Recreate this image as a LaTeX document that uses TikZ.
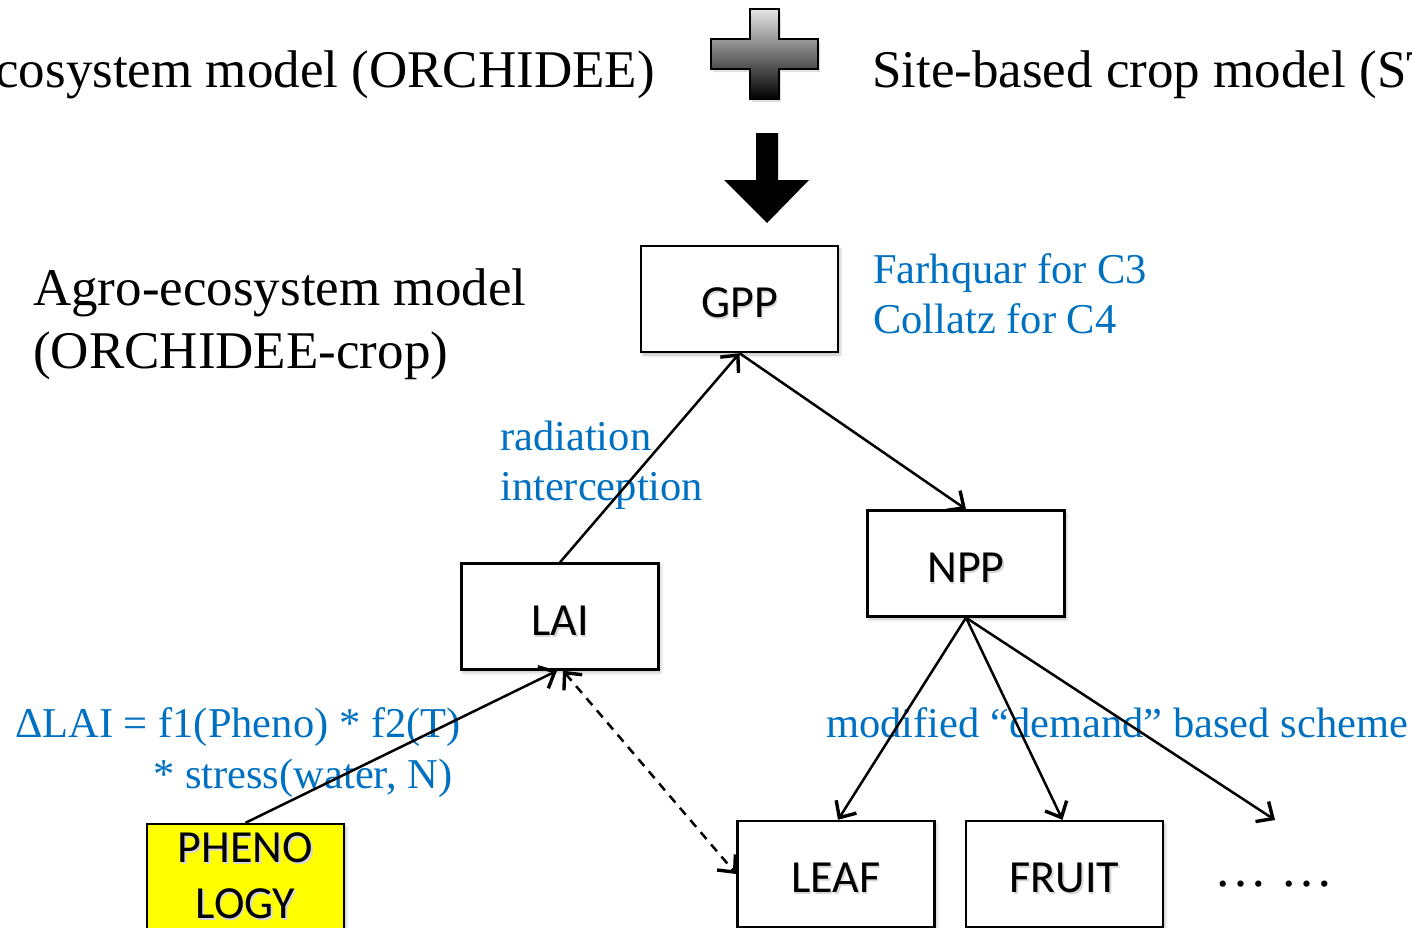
\documentclass[tikz,border=0pt]{standalone}
\usepackage{fontspec}
\setmainfont{Liberation Serif}
\newfontfamily\boxfont{Carlito}
\usetikzlibrary{arrows.meta,shadows.blur}
\definecolor{labelblue}{RGB}{0,112,192}
\definecolor{phenoyellow}{RGB}{255,255,0}
% box captions carry a soft grey drop shadow
\newcommand\shadowed[1]{\leavevmode\rlap{\kern1.5pt\raisebox{-2pt}{\textcolor{black!16}{#1}}}#1}
% single-line captions sit a little below the box centre
\newcommand\boxcap[1]{\raisebox{-5pt}[\height][\depth]{\shadowed{#1}}}

\begin{document}
\begin{tikzpicture}[x=1pt,y=-1pt,
  stage/.style={draw=black, line width=2.4pt, fill=white,
    minimum width=197pt, minimum height=106pt, inner sep=0pt,
    font=\boxfont\fontsize{46}{56}\selectfont, align=center,
    blur shadow={shadow xshift=2pt,shadow yshift=-3pt,shadow blur radius=3pt,shadow opacity=25}},
  barb/.tip={Straight Barb[length=13pt,width=24pt,line width=3.4pt]},
  flow/.style={line width=2.5pt, -barb},
  note/.style={text=labelblue, font=\fontsize{42.5}{50}\selectfont, inner sep=0pt, align=left},
  title/.style={font=\fontsize{53}{63}\selectfont, inner sep=0pt, align=left}]

\useasboundingbox (0,0) rectangle (1412,927);

% ---- headline: two models combined ----
\node[title, anchor=base east] (natural) at (655,87) {ecosystem model (ORCHIDEE)};
\node[title, anchor=base west] (site) at (872,87) {Site-based crop model (ST};

\fill[black!40, opacity=0.3] (713,42) -- (752,42) -- (752,12) -- (781,12) -- (781,42) -- (820,42)
  -- (820,72) -- (781,72) -- (781,102) -- (752,102) -- (752,72) -- (713,72) -- cycle;
\draw[line width=1.6pt, top color=black!10, bottom color=black, shading angle=0]
  (711,39) -- (750,39) -- (750,9) -- (779,9) -- (779,39) -- (818,39)
  -- (818,69) -- (779,69) -- (779,99) -- (750,99) -- (750,69) -- (711,69) -- cycle;

\fill[black] (756,133) -- (778,133) -- (778,180) -- (809,180) -- (767,223)
  -- (724,180) -- (756,180) -- cycle;

% ---- combined model ----
\node[title, anchor=base west] (agro) at (33,305) {Agro-ecosystem model};
\node[title, anchor=base west] (agrocrop) at (33,368) {(ORCHIDEE-crop)};

\node[stage] (GPP) at (739.5,299) {\boxcap{GPP}};
\node[stage] (LAI) at (560,616.5) {\boxcap{LAI}};
\node[stage] (NPP) at (966,563.5) {\boxcap{NPP}};
\node[stage] (LEAF) at (836,874) {\boxcap{LEAF}};
\node[stage] (FRUIT) at (1064.5,874) {\boxcap{FRUIT}};
\node[stage, fill=phenoyellow] (PHENO) at (245.5,877)
  {\shadowed{PHENO}\\\shadowed{LOGY}};
\coordinate (other) at (1275,820);
\node[anchor=base, inner sep=0pt, font=\fontsize{53}{60}\selectfont] (dots) at (1274,886) {…\ …};

% ---- labels (multi-line nodes sit on the baseline of their last line) ----
\node[note, anchor=base west] (photo) at (873,333) {Farhquar for C3\\Collatz for C4};
\node[note, anchor=base west] (radiation) at (500,500) {radiation\\interception};
\node[note, anchor=base west] (dlai) at (15,737) {ΔLAI = f1(Pheno) * f2(T)};
\node[note, anchor=base west] (stress) at (153,788) {* stress(water, N)};
\node[note, anchor=base west] (demand) at (826,737) {modified “demand” based scheme};

% ---- connectors ----
\draw[flow] (LAI.north) -- (GPP.south);
\draw[flow] (GPP.south) -- (NPP.north);
\draw[flow] (PHENO.north) -- ([xshift=-3pt]LAI.south);
\draw[line width=2.5pt, dash pattern=on 9pt off 7pt, barb-barb] ([xshift=3pt]LAI.south) -- (LEAF.west);
\draw[flow] (NPP.south) -- ([xshift=2pt]LEAF.north);
\draw[flow] (NPP.south) -- ([xshift=-2pt]FRUIT.north);
\draw[flow] (NPP.south) -- (other);
\end{tikzpicture}
\end{document}
